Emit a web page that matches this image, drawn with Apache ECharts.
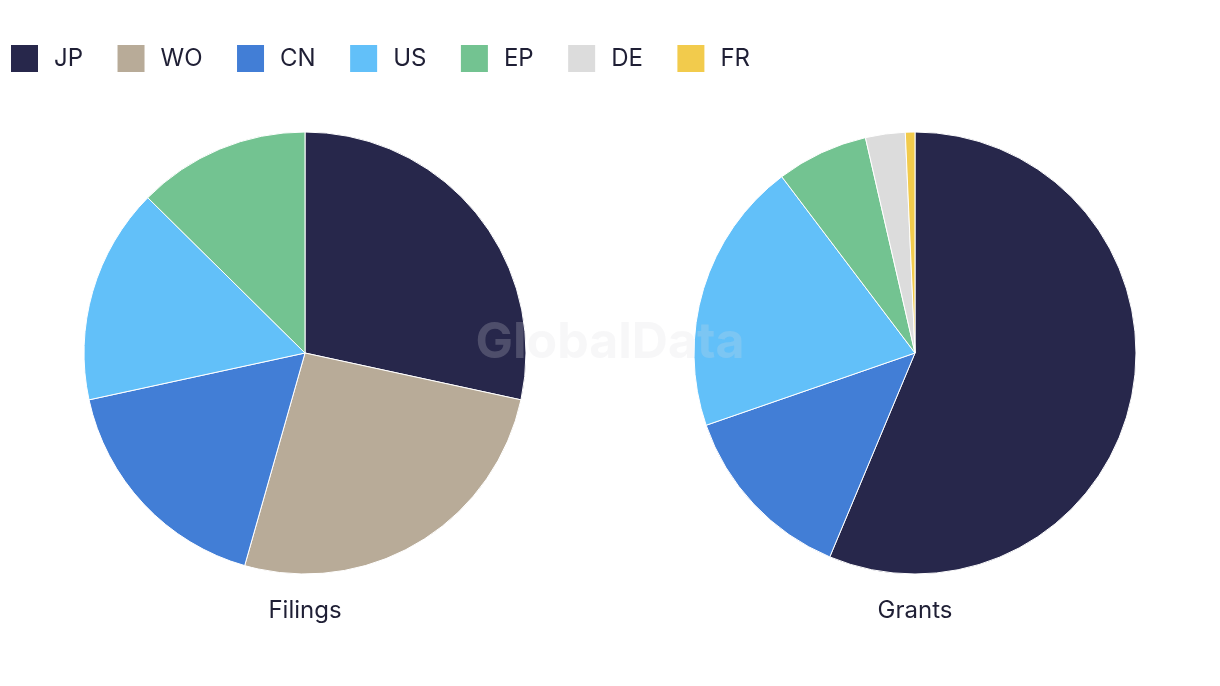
<!DOCTYPE html>
<html>
<head>
<meta charset="utf-8">
<script src="https://cdn.jsdelivr.net/npm/echarts@6/dist/echarts.min.js"></script>
<style>
html,body{margin:0;padding:0;background:#fff;}
#chart{width:1220px;height:686px;}
</style>
</head>
<body>
<div id="chart"></div>
<script>
const legendNames = ['JP', 'WO', 'CN', 'US', 'EP', 'DE', 'FR'];
const colors = {JP:'#27274b', WO:'#b8ab98', CN:'#427ed6', US:'#62c0f9', EP:'#73c391', DE:'#dcdcdc', FR:'#f2cb4c'};
const filingsNames = ['JP', 'WO', 'CN', 'US', 'EP'];
const filingsValues = [28.4, 26.0, 17.2, 15.8, 12.6];
const grantsNames = ['JP', 'CN', 'US', 'EP', 'DE', 'FR'];
const grantsValues = [56.3, 13.4, 20.0, 6.7, 2.9, 0.7];
const titles = ['Filings', 'Grants'];

const font = 'Inter, "Noto Sans", sans-serif';
function toData(names, values) {
  return names.map((n, i) => ({name: n, value: values[i], itemStyle: {color: colors[n]}}));
}
const chart = echarts.init(document.getElementById('chart'));
const pieBase = {
  type: 'pie', radius: 221, startAngle: 90, clockwise: true,
  label: {show: false}, labelLine: {show: false},
  itemStyle: {borderColor: '#fff', borderWidth: 1},
  emphasis: {disabled: true}, animation: false
};
chart.setOption({
  animation: false,
  color: legendNames.map(n => colors[n]),
  legend: {
    data: legendNames, left: 9, top: 43, padding: 0,
    itemWidth: 29, itemHeight: 29, itemGap: 32.5, icon: 'rect',
    textStyle: {fontFamily: font, fontSize: 24, color: '#1f1f35', padding: [0, 0, 0, 10]}
  },
  graphic: [
    {type: 'text', x: 305, y: 611, z: 10,
     style: {text: titles[0], font: '24px ' + font, fill: '#1f1f35', align: 'center', verticalAlign: 'middle'}},
    {type: 'text', x: 915, y: 611, z: 10,
     style: {text: titles[1], font: '24px ' + font, fill: '#1f1f35', align: 'center', verticalAlign: 'middle'}},
    {type: 'text', x: 610, y: 343, z: 100,
     style: {text: 'GlobalData', font: 'bold 50px ' + font, fill: 'rgba(217,217,225,0.22)', align: 'center', verticalAlign: 'middle'}}
  ],
  series: [
    Object.assign({}, pieBase, {name: titles[0], center: [305, 353], data: toData(filingsNames, filingsValues)}),
    Object.assign({}, pieBase, {name: titles[1], center: [915, 353], data: toData(grantsNames, grantsValues)})
  ]
});
</script>
</body>
</html>
